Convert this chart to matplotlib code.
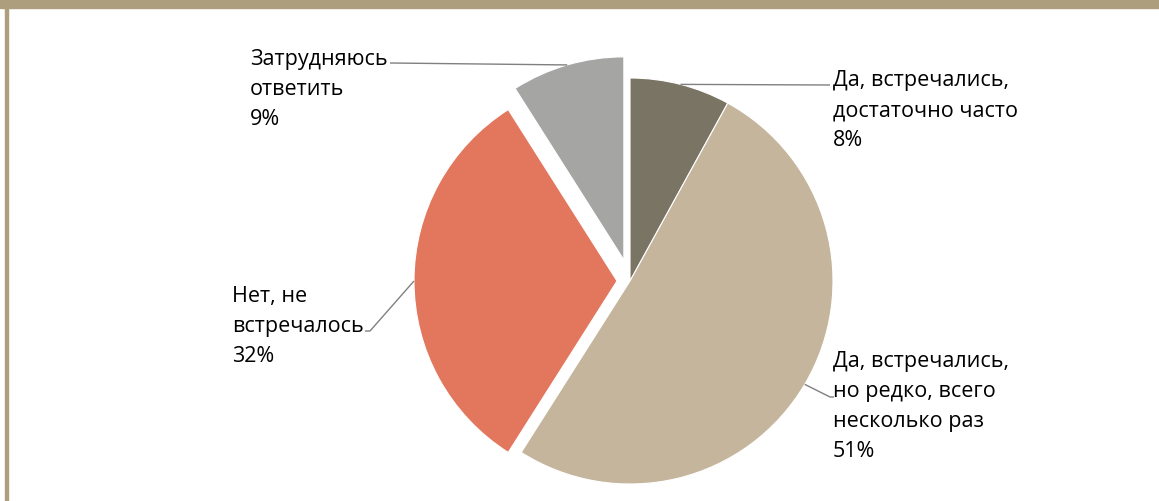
import numpy as np
import matplotlib.pyplot as plt
from matplotlib.patches import Rectangle

plt.rcParams['font.family'] = ['Open Sans', 'DejaVu Sans']

# ответы на вопрос, по часовой стрелке от 12 часов
labels = [
    ['Да, встречались,', 'достаточно часто'],
    ['Да, встречались,', 'но редко, всего', 'несколько раз'],
    ['Нет, не', 'встречалось'],
    ['Затрудняюсь', 'ответить'],
]
shares = [8, 51, 32, 9]
colors = ['#7A7464', '#C4B59C', '#E2775E', '#A5A6A3']
explode = [0, 0, 13, 22]  # px, pie() takes explode in data units

W, H = 1159, 501
cx, cy, R = 630, H - 281, 203

fig = plt.figure(figsize=(W / 100, H / 100), dpi=100)
ax = fig.add_axes([0, 0, 1, 1])

wedges, _ = ax.pie(shares, colors=colors, explode=explode, startangle=90,
                   counterclock=False, center=(cx, cy), radius=R,
                   wedgeprops=dict(edgecolor='white', linewidth=0.8))
ax.set_xlim(0, W)
ax.set_ylim(0, H)
ax.set_aspect('equal')
ax.axis('off')

# text block: left x, first baseline (px from top); leader elbow points
blocks = [
    (833, 86, [(830, 85)]),
    (833, 367, [(830, 397), (834, 397)]),
    (232, 302, [(370, 331), (365, 331)]),
    (250, 65, [(390, 63)]),
]

total = sum(shares)
acc = 0
for w, share, lines, (tx, ty, elbow) in zip(wedges, shares, labels, blocks):
    mid = 90 - 360 * (acc + share / 2) / total
    acc += share
    ox, oy = w.center
    sx = ox + R * np.cos(np.radians(mid))
    sy = oy + R * np.sin(np.radians(mid))
    xs = [sx] + [p[0] for p in elbow]
    ys = [sy] + [H - p[1] for p in elbow]
    ax.plot(xs, ys, color='#808080', lw=1, solid_capstyle='butt')
    for i, line in enumerate(lines + [f'{share}%']):
        ax.text(tx, H - (ty + 30 * i), line, fontsize=15.5, color='black',
                ha='left', va='baseline')

# рамка слайда
ax.add_patch(Rectangle((0, H - 8), W, 8, color='#AD9E7E', clip_on=False))
ax.add_patch(Rectangle((5, 0), 3, H - 8, color='#AD9E7E', clip_on=False))

fig.savefig('out.png', dpi=100, facecolor='white')
